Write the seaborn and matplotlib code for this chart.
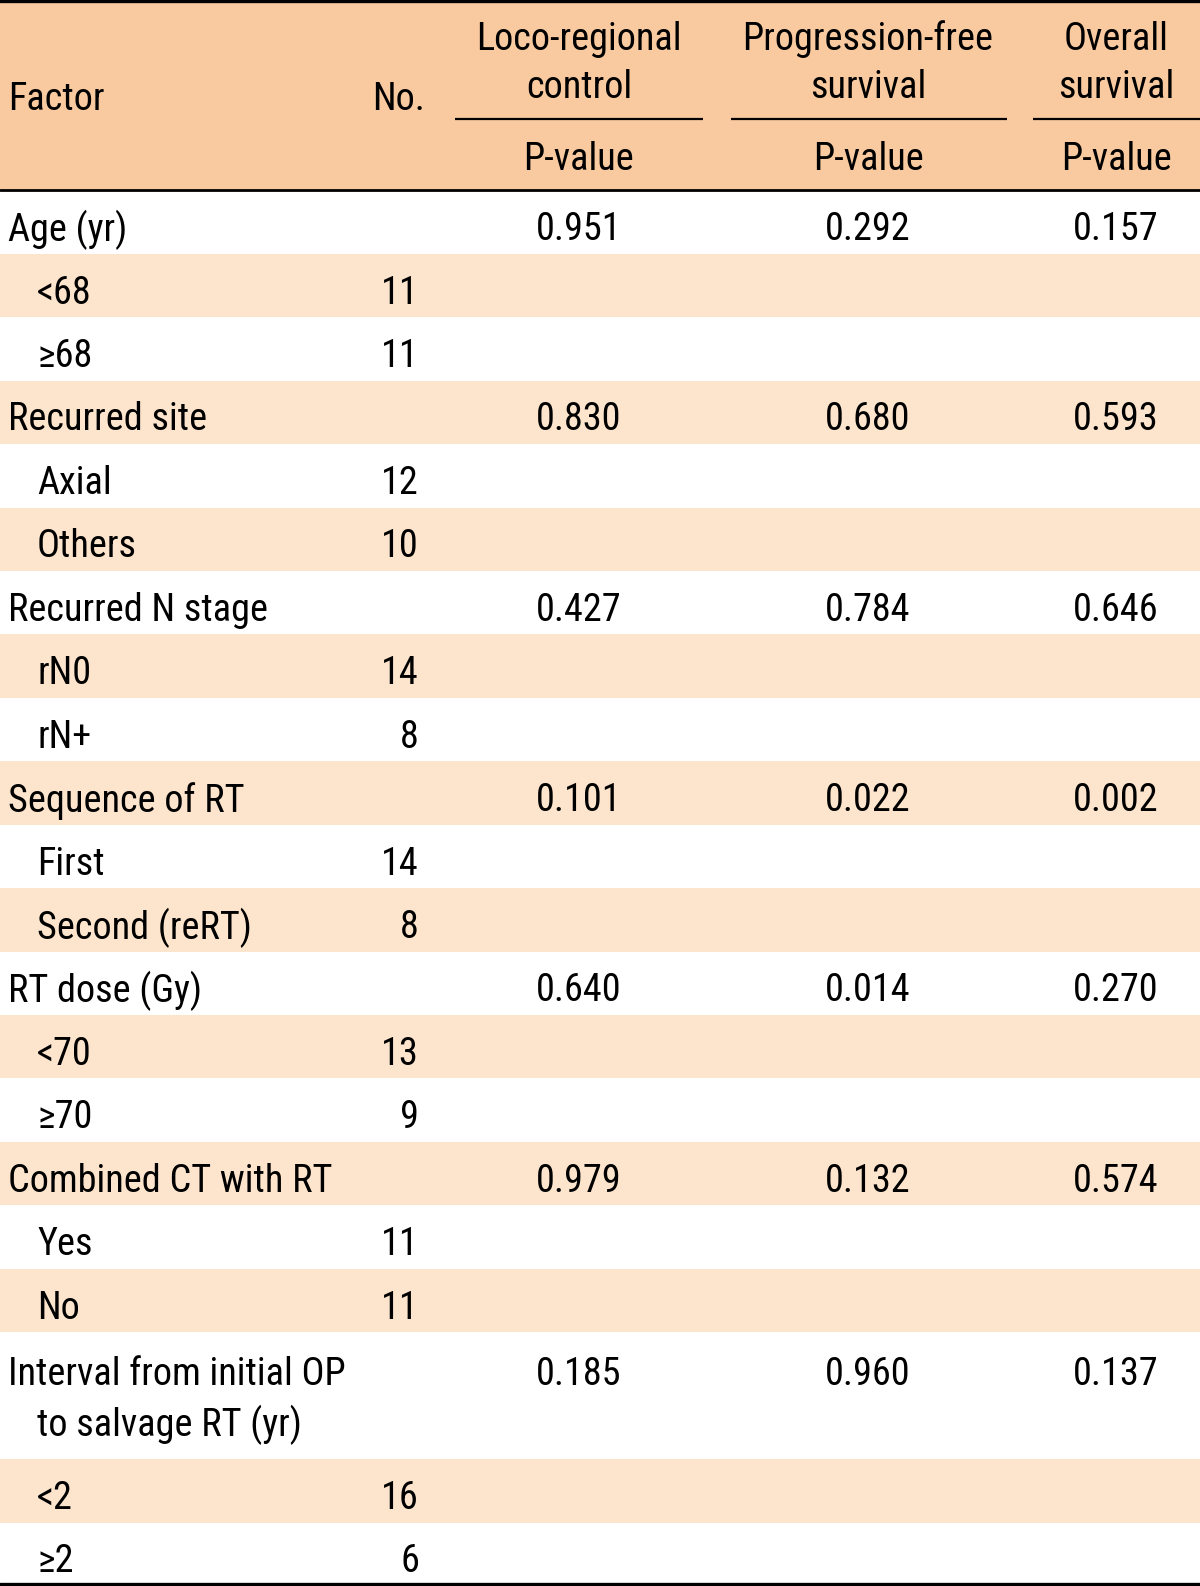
import numpy as np
import pandas as pd
import matplotlib
matplotlib.use('Agg')
import matplotlib.pyplot as plt
from matplotlib.colors import ListedColormap
import seaborn as sns

# table content
factors = ['Age (yr)', 'Recurred site', 'Recurred N stage', 'Sequence of RT',
           'RT dose (Gy)', 'Combined CT with RT', 'Interval from initial OP']
factor_extra = {6: 'to salvage RT (yr)'}
levels = [['<68', '≥68'], ['Axial', 'Others'], ['rN0', 'rN+'], ['First', 'Second (reRT)'],
          ['<70', '≥70'], ['Yes', 'No'], ['<2', '≥2']]
counts = [[11, 11], [12, 10], [14, 8], [14, 8], [13, 9], [11, 11], [16, 6]]
p_lrc = ['0.951', '0.830', '0.427', '0.101', '0.640', '0.979', '0.185']
p_pfs = ['0.292', '0.680', '0.784', '0.022', '0.014', '0.132', '0.960']
p_os = ['0.157', '0.593', '0.646', '0.002', '0.270', '0.574', '0.137']
group_titles = ['Loco-regional\ncontrol', 'Progression-free\nsurvival', 'Overall\nsurvival']

HEADER = '#F9CA9F'
STRIPE = '#FDE5CD'
W, H = 1200, 1586

sns.set_theme(style='white')
plt.rcParams['font.family'] = ['Roboto Condensed', 'Archivo Narrow', 'DejaVu Sans']
plt.rcParams['text.color'] = 'black'
FS = 27.5

# build rows
rows = []
for i, f in enumerate(factors):
    h = 2 if i in factor_extra else 1
    rows.append(dict(kind='factor', label=f, extra=factor_extra.get(i), n=None,
                     p=[p_lrc[i], p_pfs[i], p_os[i]], h=h))
    for lab, n in zip(levels[i], counts[i]):
        rows.append(dict(kind='level', label=lab, extra=None, n=n, p=None, h=1))

# background via heatmap (one cell per row unit)
shade = [2, 2, 2]
for k, r in enumerate(rows):
    shade += [k % 2] * r['h']
bg = pd.DataFrame({'c': shade})

fig = plt.figure(figsize=(W / 100, H / 100), dpi=100)
ax = fig.add_axes([0, 0, 1, 1])
sns.heatmap(bg, cmap=ListedColormap(['white', STRIPE, HEADER]), vmin=-0.5, vmax=2.5,
            cbar=False, ax=ax)
ax.set_axis_off()
ax.set_xlim(0, 1)
ax.set_ylim(25, 0)

def px(x):
    return x / W

col_x = [579, 868, 1116]
col_seg = [(455, 703), (731, 1007), (1033, 1200)]
dy = 0.04

# header
ax.text(px(8), 1.53 + dy, 'Factor', fontsize=FS, ha='left', va='center')
ax.text(px(425), 1.53 + dy, 'No.', fontsize=FS, ha='right', va='center')
for cx, (a, b), t in zip(col_x, col_seg, group_titles):
    l1, l2 = t.split('\n')
    ax.text(px(cx), 0.58 + dy, l1, fontsize=FS, ha='center', va='center')
    ax.text(px(cx), 1.34 + dy, l2, fontsize=FS, ha='center', va='center')
    ax.text(px(cx), 2.47 + dy, 'P-value', fontsize=FS, ha='center', va='center')
    ax.plot([px(a), px(b)], [1.88, 1.88], color='black', lw=1.6, solid_capstyle='butt')

ax.plot([0, 1], [0.02, 0.02], color='black', lw=2.4)
ax.plot([0, 1], [3, 3], color='black', lw=2.0)
ax.plot([0, 1], [24.97, 24.97], color='black', lw=2.4)

# body
y0 = 3
for r in rows:
    yc = (y0 + 0.58 if r['h'] == 1 else y0 + 0.62) + dy
    if r['kind'] == 'factor':
        ax.text(px(8), yc, r['label'], fontsize=FS, ha='left', va='center')
        if r['extra']:
            ax.text(px(37), y0 + 1.42 + dy, r['extra'], fontsize=FS, ha='left', va='center')
        for cx, p in zip(col_x, r['p']):
            ax.text(px(cx), yc, p, fontsize=FS, ha='center', va='center')
    else:
        ax.text(px(37), yc, r['label'], fontsize=FS, ha='left', va='center')
        ax.text(px(419), yc, str(r['n']), fontsize=FS, ha='right', va='center')
    y0 += r['h']

fig.savefig('out.png', dpi=100)
